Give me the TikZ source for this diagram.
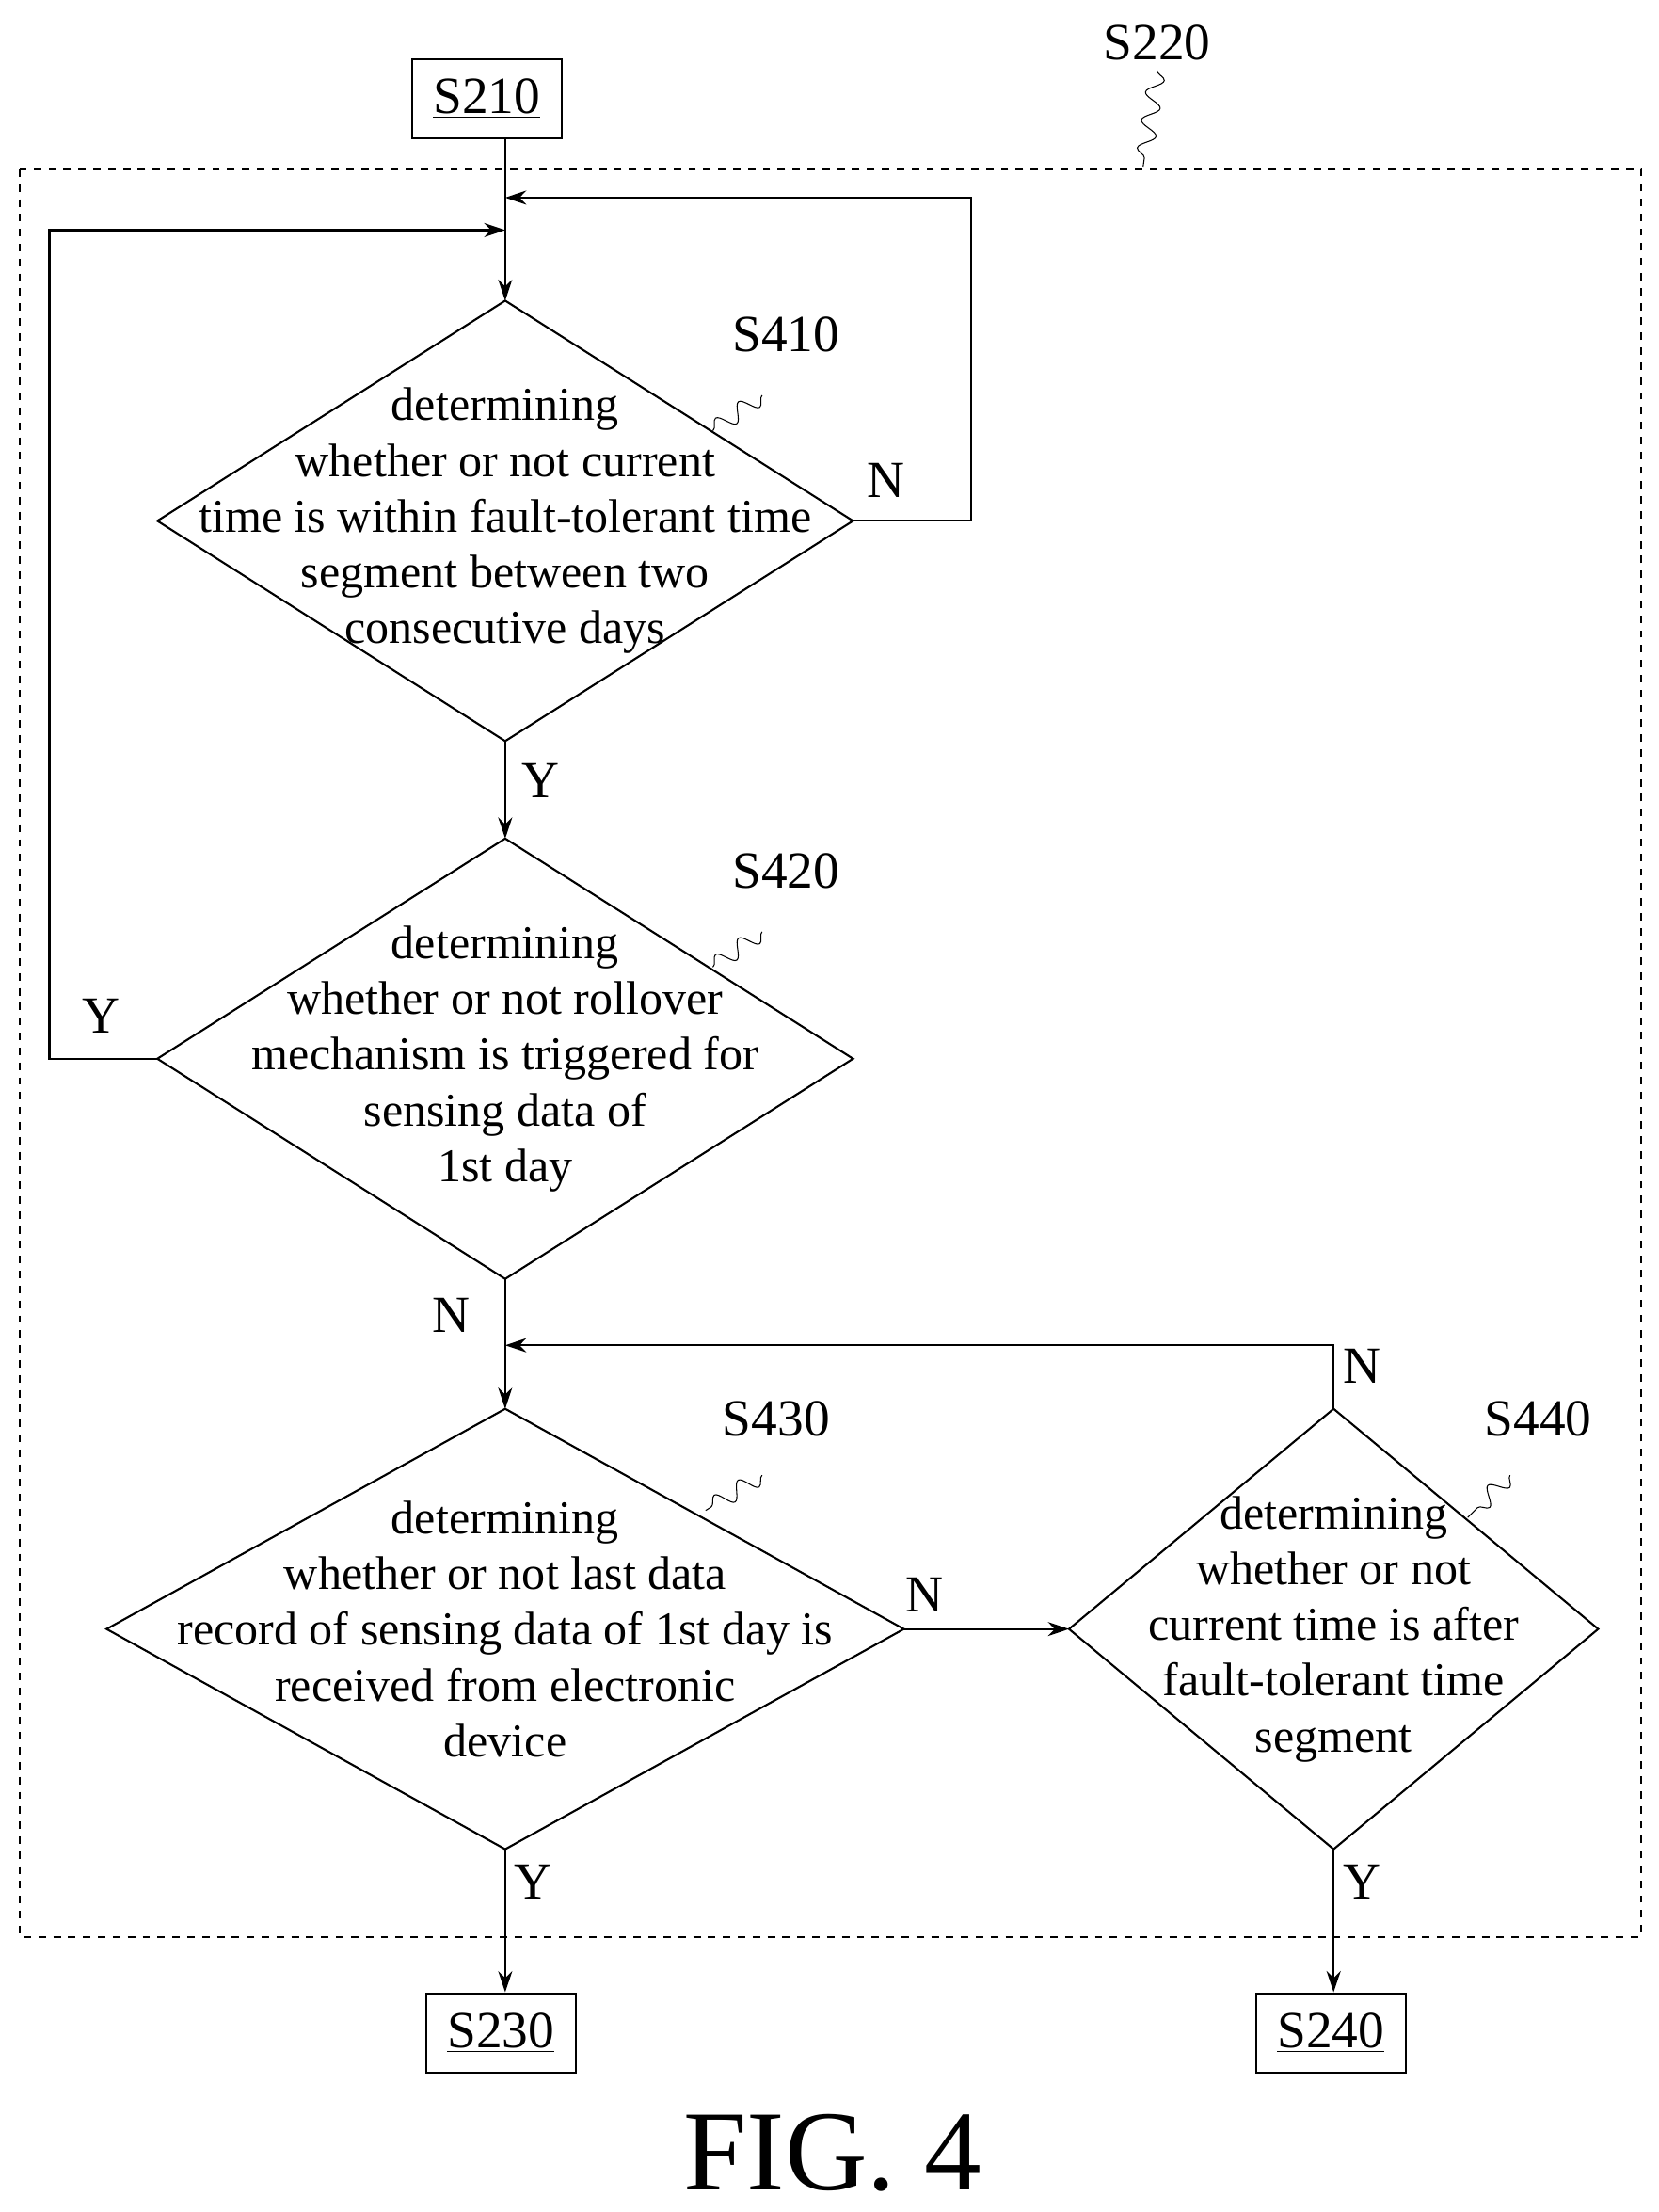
\documentclass[tikz,border=0pt]{standalone}
\usepackage{fontspec}
\setmainfont{Liberation Serif}
\usetikzlibrary{arrows.meta,decorations.pathmorphing}
\tikzstyle{tsText} = [
    text=black,
    font=\fontsize{19}{22.5}\selectfont,
    align=center
]
\tikzstyle{tsStep} = [
    rectangle,
    draw=black,
    thick,
    font=\fontsize{21}{24}\selectfont,
    minimum width=2.12cm,
    minimum height=1.12cm
]
\tikzstyle{tsLabel} = [
    font=\fontsize{21}{24}\selectfont
]
\tikzstyle{tsFlow} = [
    -{Stealth[length=3mm,width=2mm]},
    thick
]
\tikzstyle{tsSquiggle} = [
    decorate,
    decoration={snake,amplitude=1.2mm,segment length=4mm},
    thin
]
% decision: name, x, y, half width, half height, text
\newcommand{\tsDecision}[6]{
    \coordinate (#1-n) at (#2,#3+#5);
    \coordinate (#1-s) at (#2,#3-#5);
    \coordinate (#1-e) at (#2+#4,#3);
    \coordinate (#1-w) at (#2-#4,#3);
    \draw[thick] (#1-n) -- (#1-e) -- (#1-s) -- (#1-w) -- cycle;
    \node[tsText] (#1) at (#2,#3) {#6};
}
\begin{document}
\begin{tikzpicture}
        \useasboundingbox (0,0) rectangle (23.5,-31.34);

        % outer dashed block
        \draw[dashed, thick] (0.28,-2.4) rectangle (23.26,-27.44);
        \node[tsLabel] (s220) at (16.4,-0.6) {S220};
        \draw[tsSquiggle] (16.4,-1.0) -- (16.2,-2.36);

        % start and end steps
        \node[tsStep] (s210) at (6.9,-1.4) {\underline{S210}};
        \node[tsStep] (s230) at (7.1,-28.8) {\underline{S230}};
        \node[tsStep] (s240) at (18.86,-28.8) {\underline{S240}};

        % decisions
        \tsDecision{s410}{7.16}{-7.38}{4.93}{3.12}
            {determining\\whether or not current\\time is within fault-tolerant time\\segment between two\\consecutive days}
        \tsDecision{s420}{7.16}{-15.0}{4.93}{3.12}
            {determining\\whether or not rollover\\mechanism is triggered for\\sensing data of\\1st day}
        \tsDecision{s430}{7.16}{-23.08}{5.65}{3.12}
            {determining\\whether or not last data\\record of sensing data of 1st day is\\received from electronic\\device}
        \tsDecision{s440}{18.9}{-23.08}{3.75}{3.12}
            {determining\\whether or not\\current time is after\\fault-tolerant time\\segment}

        % step labels
        \node[tsLabel] (l410) at (11.14,-4.74) {S410};
        \node[tsLabel] (l420) at (11.14,-12.34) {S420};
        \node[tsLabel] (l430) at (11.0,-20.1) {S430};
        \node[tsLabel] (l440) at (21.8,-20.1) {S440};
        \draw[tsSquiggle] (10.8,-5.6) -- (10.1,-6.1);
        \draw[tsSquiggle] (10.8,-13.2) -- (10.1,-13.7);
        \draw[tsSquiggle] (10.8,-20.9) -- (10.0,-21.4);
        \draw[tsSquiggle] (21.4,-20.9) -- (20.8,-21.5);

        % junctions
        \coordinate (j1) at (7.16,-2.8);
        \coordinate (j2) at (7.16,-3.26);
        \coordinate (j3) at (7.16,-19.06);

        % flow
        \draw[thick] (s210.south -| j1) -- (j1);
        \draw[tsFlow] (j1) -- (s410-n);
        \draw[tsFlow] (s410-e) -- (13.76,-7.38) -- (13.76,-2.8) -- (j1);
        \draw[tsFlow] (s420-w) -- (0.7,-15.0) -- (0.7,-3.26) -- (j2);
        \draw[tsFlow] (s410-s) -- (s420-n);
        \draw[tsFlow] (s420-s) -- (s430-n);
        \draw[tsFlow] (s440-n) -- (18.9,-19.06) -- (j3);
        \draw[tsFlow] (s430-e) -- (s440-w);
        \draw[tsFlow] (s430-s) -- (s230.north -| s430-s);
        \draw[tsFlow] (s440-s) -- (s240.north -| s440-s);

        % branch labels
        \node[tsLabel] at (12.56,-6.8) {N};
        \node[tsLabel] at (7.66,-11.06) {Y};
        \node[tsLabel] at (1.44,-14.4) {Y};
        \node[tsLabel] at (6.4,-18.64) {N};
        \node[tsLabel] at (19.3,-19.36) {N};
        \node[tsLabel] at (13.1,-22.6) {N};
        \node[tsLabel] at (7.56,-26.66) {Y};
        \node[tsLabel] at (19.3,-26.66) {Y};

        \node[font=\fontsize{46}{52}\selectfont] (fig) at (11.8,-30.5) {FIG. 4};
\end{tikzpicture}
\end{document}
